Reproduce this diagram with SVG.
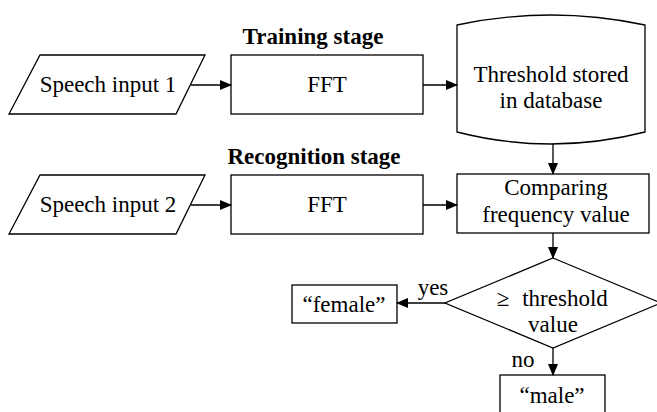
<svg xmlns="http://www.w3.org/2000/svg" width="657" height="412" viewBox="0 0 657 412">
<style>
.s{fill:#fff;stroke:#000;stroke-width:1.3}
.t{font-family:"Liberation Serif","Times New Roman",serif;font-size:23px;fill:#000;text-anchor:middle}
.b{font-weight:bold}
.c{fill:none;stroke:#000;stroke-width:1.3}
</style>
<defs>
<marker id="a" markerWidth="12" markerHeight="10" refX="11" refY="5" orient="auto" markerUnits="userSpaceOnUse">
<path d="M0,0 L12,5 L0,10 Z" fill="#000"/>
</marker>
</defs>
<rect width="657" height="412" fill="#fff"/>
<text class="t b" x="313" y="44">Training stage</text>
<text class="t b" x="314" y="164">Recognition stage</text>
<g id="speech1"><polygon class="s" points="40,55 205,55 176,114 9,114"/><text class="t" x="108" y="92">Speech input 1</text></g>
<g id="fft1"><rect class="s" x="231" y="55" width="192" height="59"/><text class="t" x="327" y="92">FFT</text></g>
<g id="db"><path class="s" d="M457,25 Q551,5 645,25 L645,132 Q551,156 457,132 Z"/><text class="t" x="551" y="82">Threshold stored</text><text class="t" x="551" y="108">in database</text></g>
<g id="speech2"><polygon class="s" points="40,175 205,175 176,234 9,234"/><text class="t" x="108" y="212">Speech input 2</text></g>
<g id="fft2"><rect class="s" x="231" y="175" width="192" height="59"/><text class="t" x="327" y="212">FFT</text></g>
<g id="compare"><rect class="s" x="457" y="174" width="192" height="59"/><text class="t" x="556" y="195">Comparing</text><text class="t" x="556" y="222">frequency value</text></g>
<g id="decision"><polygon class="s" points="553,258 661,303 553,348 445,303"/><text class="t" x="503" y="306">≥</text><text class="t" x="565" y="306">threshold</text><text class="t" x="553" y="332">value</text></g>
<g id="female"><rect class="s" x="292" y="285" width="105" height="38"/><text class="t" x="344" y="312">“female”</text></g>
<g id="male"><rect class="s" x="500" y="375" width="105" height="40"/><text class="t" x="552" y="403">“male”</text></g>
<g id="connectors">
<line class="c" x1="191" y1="85" x2="231" y2="85" marker-end="url(#a)"/>
<line class="c" x1="423" y1="85" x2="457" y2="85" marker-end="url(#a)"/>
<line class="c" x1="191" y1="205" x2="231" y2="205" marker-end="url(#a)"/>
<line class="c" x1="423" y1="205" x2="457" y2="205" marker-end="url(#a)"/>
<line class="c" x1="553" y1="144" x2="553" y2="174" marker-end="url(#a)"/>
<line class="c" x1="553" y1="233" x2="553" y2="258" marker-end="url(#a)"/>
<line class="c" x1="445" y1="303" x2="397" y2="303" marker-end="url(#a)"/>
<line class="c" x1="553" y1="348" x2="553" y2="375" marker-end="url(#a)"/>
<text class="t" x="433" y="295">yes</text>
<text class="t" x="523" y="367">no</text>
</g>
</svg>
